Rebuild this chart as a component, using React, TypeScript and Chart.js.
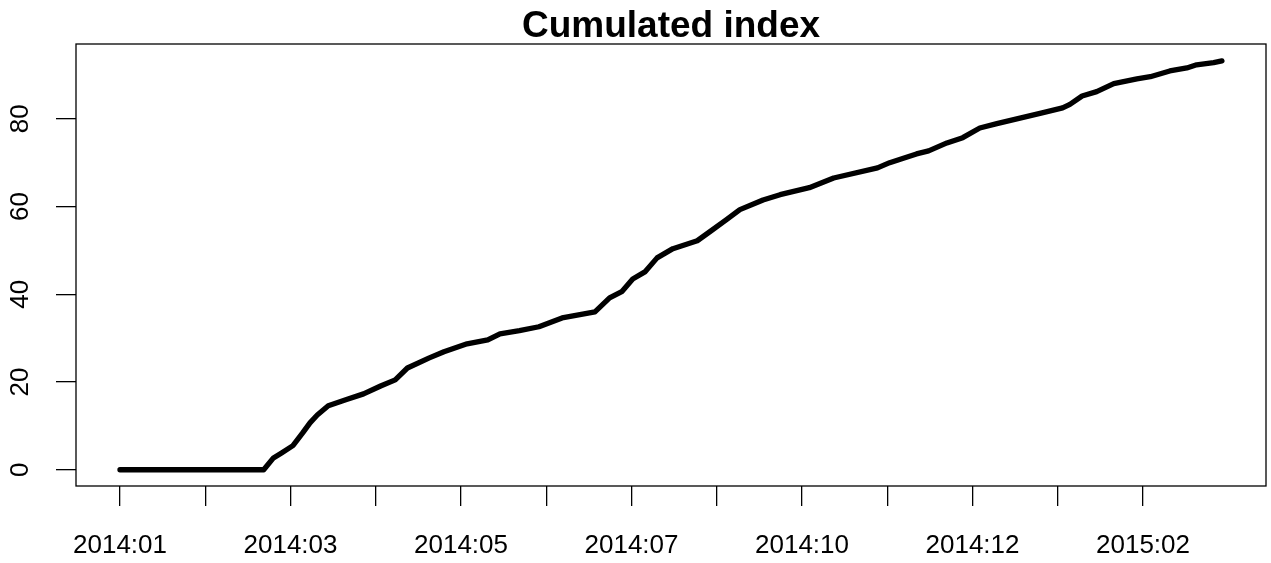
import React, { useEffect, useRef } from "react";
import { Chart, registerables } from "chart.js";

Chart.register(...registerables);

// Day offsets from 2014-01-01 and cumulated index values
const days: number[] = [
  0, 59, 63, 66.5, 71, 75, 78, 81, 85.5, 93, 100, 107, 113, 118, 127, 133,
  142.5, 151, 156, 164, 172, 181.5, 195, 201, 206, 210.5, 215.5, 220.5, 227,
  237, 242, 249, 254.5, 264, 271, 283, 293, 311, 316, 321, 327, 332, 339.5,
  346, 353, 360, 379, 387, 390, 395, 401, 408, 417.5, 423, 431, 438, 442, 449,
  452.4,
];
const values: number[] = [
  0, 0, 2.7, 3.9, 5.5, 8.4, 10.7, 12.5, 14.6, 16.0, 17.3, 19.1, 20.5, 23.2,
  25.5, 26.9, 28.7, 29.6, 31.0, 31.7, 32.6, 34.6, 36.0, 39.2, 40.6, 43.5, 45.1,
  48.3, 50.4, 52.2, 54.2, 57.0, 59.3, 61.5, 62.7, 64.3, 66.5, 68.8, 70.0, 70.9,
  72.0, 72.7, 74.5, 75.7, 77.9, 78.9, 81.4, 82.5, 83.3, 85.2, 86.2, 88.0, 89.1,
  89.6, 90.9, 91.6, 92.3, 92.8, 93.2,
];

// x-axis ticks (day offsets) and their labels; R hides every other one (overlap)
const xTickDays: number[] = [0, 35, 70, 105, 140, 175, 210, 245, 280, 315, 350, 385, 420];
const xTickLabels: string[] = [
  "2014:01", "2014:02", "2014:03", "2014:04", "2014:05", "2014:06", "2014:07",
  "2014:09", "2014:10", "2014:11", "2014:12", "2015:01", "2015:02",
];
const yTicks: number[] = [0, 20, 40, 60, 80];

const FONT = "'Liberation Sans', Arial, Helvetica, sans-serif";

export default function App() {
  const ref = useRef<HTMLCanvasElement | null>(null);

  useEffect(() => {
    if (!ref.current) return;
    const boxPlugin = {
      id: "rbox",
      afterDraw(chart: any) {
        const { ctx, chartArea } = chart;
        ctx.save();
        ctx.strokeStyle = "#000";
        ctx.lineWidth = 1.3;
        ctx.strokeRect(chartArea.left, chartArea.top, chartArea.right - chartArea.left, chartArea.bottom - chartArea.top);
        ctx.restore();
      },
    };
    const chart = new Chart(ref.current, {
      type: "line",
      data: {
        datasets: [
          {
            data: days.map((d, i) => ({ x: d, y: values[i] })),
            borderColor: "#000",
            borderWidth: 5.3,
            borderCapStyle: "round",
            borderJoinStyle: "round",
            pointRadius: 0,
            tension: 0,
            fill: false,
          },
        ],
      },
      options: {
        responsive: false,
        animation: false,
        layout: { padding: { left: 0, right: 5, top: 0, bottom: 0 } },
        plugins: {
          legend: { display: false },
          tooltip: { enabled: false },
          title: {
            display: true,
            text: "Cumulated index",
            color: "#000",
            fullSize: false,
            font: { family: FONT, size: 37, weight: "bold", lineHeight: 0.946 },
            padding: { top: 9, bottom: 0 },
          },
        },
        scales: {
          x: {
            type: "linear",
            min: -18.06,
            max: 470.5,
            afterBuildTicks: (scale: any) => {
              scale.ticks = xTickDays.map((v) => ({ value: v }));
            },
            afterFit: (scale: any) => {
              scale.height = 77;
            },
            ticks: {
              autoSkip: false,
              maxRotation: 0,
              minRotation: 0,
              color: "#000",
              padding: 24,
              font: { family: FONT, size: 26 },
              callback: (_v: any, i: number) => (i % 2 === 0 ? xTickLabels[i] : ""),
            },
            grid: {
              display: true,
              drawOnChartArea: false,
              drawTicks: true,
              tickLength: 20,
              color: "#000",
              lineWidth: 1.3,
            },
            border: { display: false },
          },
          y: {
            type: "linear",
            min: -3.7,
            max: 97.05,
            afterBuildTicks: (scale: any) => {
              scale.ticks = yTicks.map((v) => ({ value: v }));
            },
            afterFit: (scale: any) => {
              scale.width = 76;
            },
            ticks: {
              color: "#000",
              minRotation: 90,
              maxRotation: 90,
              crossAlign: "center",
              padding: 20.5,
              font: { family: FONT, size: 26 },
              callback: (v: any) => String(v),
            },
            grid: {
              display: true,
              drawOnChartArea: false,
              drawTicks: true,
              tickLength: 20,
              color: "#000",
              lineWidth: 1.3,
            },
            border: { display: false },
          },
        },
      },
      plugins: [boxPlugin],
    } as any);
    return () => chart.destroy();
  }, []);

  return (
    <div style={{ position: "absolute", left: 0, top: 0, width: 1271, height: 563, background: "#fff" }}>
      <canvas ref={ref} width={1271} height={563} style={{ display: "block" }} />
    </div>
  );
}
